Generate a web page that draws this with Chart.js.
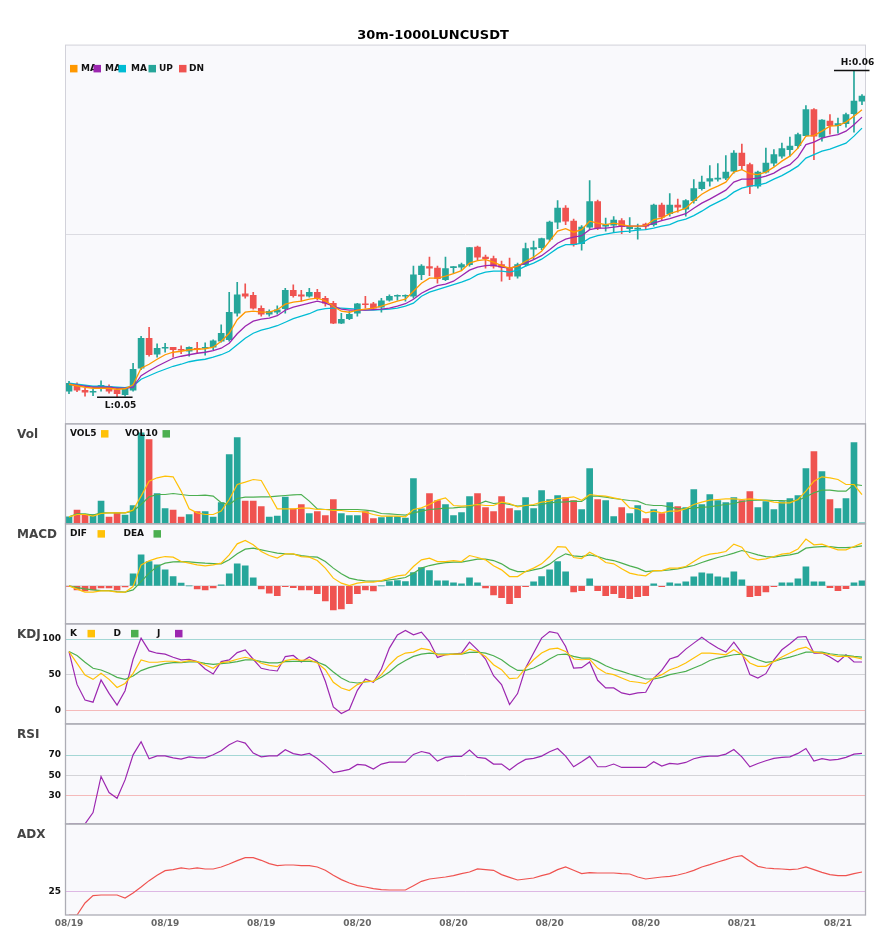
<!DOCTYPE html>
<html>
<head>
<meta charset="utf-8">
<title>30m-1000LUNCUSDT</title>
<script src="https://cdn.jsdelivr.net/npm/chart.js@4.4.1/dist/chart.umd.min.js"></script>
<style>
  html, body { margin: 0; padding: 0; background: #fff; }
</style>
</head>
<body>
<canvas id="chart" width="885" height="950"></canvas>
<script>
const UP = '#26a69a';
const DN = '#ef5350';

const tickLabels = ['08/19', '08/19', '08/19', '08/20', '08/20', '08/20', '08/20', '08/21', '08/21'];

const opens = [
  0.05317,0.05331,0.05319,0.05315,0.05322,0.05327,0.05320,0.05310,0.05319,0.05363,
  0.05423,0.05391,0.05403,0.05405,0.05401,0.05397,0.05403,0.05403,0.05405,0.05417,
  0.05420,0.05473,0.05512,0.05509,0.05483,0.05471,0.05475,0.05482,0.05519,0.05510,
  0.05507,0.05515,0.05503,0.05493,0.05453,0.05462,0.05473,0.05492,0.05492,0.05485,
  0.05499,0.05507,0.05507,0.05507,0.05550,0.05566,0.05563,0.05540,0.05564,0.05565,
  0.05570,0.05605,0.05585,0.05582,0.05570,0.05563,0.05547,0.05570,0.05601,0.05604,
  0.05621,0.05655,0.05683,0.05657,0.05612,0.05645,0.05696,0.05647,0.05649,0.05658,
  0.05642,0.05641,0.05651,0.05650,0.05689,0.05672,0.05689,0.05681,0.05698,0.05722,
  0.05737,0.05741,0.05743,0.05757,0.05793,0.05770,0.05727,0.05755,0.05773,0.05787,
  0.05800,0.05808,0.05828,0.05880,0.05825,0.05857,0.05848,0.05852,0.05872,0.05897
];
const highs = [
  0.05337,0.05334,0.05323,0.05321,0.05338,0.05330,0.05323,0.05325,0.05373,0.05427,
  0.05445,0.05412,0.05413,0.05405,0.05408,0.05406,0.05415,0.05414,0.05420,0.05450,
  0.05515,0.05535,0.05532,0.05515,0.05488,0.05480,0.05488,0.05523,0.05530,0.05519,
  0.05523,0.05521,0.05507,0.05497,0.05473,0.05477,0.05493,0.05507,0.05495,0.05503,
  0.05510,0.05510,0.05510,0.05567,0.05570,0.05585,0.05567,0.05585,0.05566,0.05573,
  0.05604,0.05607,0.05589,0.05587,0.05577,0.05583,0.05573,0.05613,0.05617,0.05623,
  0.05657,0.05698,0.05688,0.05661,0.05648,0.05738,0.05699,0.05663,0.05666,0.05662,
  0.05664,0.05651,0.05653,0.05691,0.05693,0.05712,0.05701,0.05700,0.05740,0.05747,
  0.05768,0.05772,0.05788,0.05798,0.05811,0.05773,0.05757,0.05803,0.05800,0.05813,
  0.05825,0.05833,0.05888,0.05882,0.05860,0.05870,0.05863,0.05873,0.05958,0.05910
];
const lows = [
  0.05312,0.05316,0.05307,0.05308,0.05317,0.05313,0.05305,0.05307,0.05317,0.05360,
  0.05387,0.05385,0.05395,0.05385,0.05392,0.05387,0.05393,0.05389,0.05400,0.05415,
  0.05417,0.05467,0.05503,0.05481,0.05467,0.05467,0.05471,0.05473,0.05505,0.05497,
  0.05505,0.05500,0.05487,0.05452,0.05452,0.05460,0.05467,0.05483,0.05480,0.05475,
  0.05497,0.05499,0.05497,0.05503,0.05540,0.05548,0.05533,0.05538,0.05553,0.05559,
  0.05567,0.05580,0.05563,0.05563,0.05537,0.05540,0.05543,0.05567,0.05581,0.05600,
  0.05617,0.05642,0.05650,0.05607,0.05599,0.05640,0.05640,0.05637,0.05634,0.05632,
  0.05634,0.05621,0.05640,0.05647,0.05660,0.05667,0.05675,0.05667,0.05693,0.05719,
  0.05727,0.05737,0.05740,0.05753,0.05760,0.05712,0.05723,0.05753,0.05767,0.05783,
  0.05787,0.05803,0.05827,0.05780,0.05817,0.05831,0.05833,0.05845,0.05835,0.05890
];
const closes = [
  0.05333,0.05319,0.05315,0.05317,0.05329,0.05317,0.05312,0.05323,0.05361,0.05423,
  0.05390,0.05403,0.05405,0.05400,0.05399,0.05405,0.05401,0.05405,0.05418,0.05433,
  0.05475,0.05510,0.05507,0.05483,0.05471,0.05477,0.05480,0.05519,0.05508,0.05507,
  0.05515,0.05503,0.05493,0.05453,0.05461,0.05471,0.05492,0.05490,0.05483,0.05498,
  0.05507,0.05509,0.05509,0.05550,0.05567,0.05563,0.05542,0.05562,0.05566,0.05570,
  0.05604,0.05585,0.05582,0.05567,0.05565,0.05547,0.05570,0.05602,0.05604,0.05622,
  0.05655,0.05683,0.05657,0.05610,0.05645,0.05696,0.05643,0.05650,0.05659,0.05646,
  0.05646,0.05643,0.05647,0.05689,0.05665,0.05689,0.05685,0.05698,0.05722,0.05735,
  0.05742,0.05743,0.05755,0.05793,0.05768,0.05727,0.05755,0.05773,0.05790,0.05802,
  0.05807,0.05830,0.05880,0.05827,0.05859,0.05848,0.05852,0.05870,0.05897,0.05907
];

const ma5 = [
  0.05331,0.05328,0.05325,0.05323,0.05323,0.05323,0.05321,0.05322,0.05330,0.05363,
  0.05371,0.05381,0.05390,0.05395,0.05397,0.05400,0.05401,0.05402,0.05405,0.05417,
  0.05433,0.05460,0.05475,0.05477,0.05475,0.05475,0.05480,0.05491,0.05495,0.05497,
  0.05501,0.05503,0.05498,0.05487,0.05477,0.05475,0.05479,0.05481,0.05483,0.05487,
  0.05492,0.05497,0.05501,0.05517,0.05533,0.05543,0.05543,0.05547,0.05552,0.05558,
  0.05573,0.05578,0.05580,0.05575,0.05568,0.05563,0.05567,0.05577,0.05585,0.05597,
  0.05617,0.05637,0.05642,0.05635,0.05640,0.05657,0.05653,0.05650,0.05653,0.05650,
  0.05647,0.05647,0.05648,0.05660,0.05663,0.05672,0.05677,0.05683,0.05698,0.05711,
  0.05720,0.05727,0.05735,0.05755,0.05760,0.05752,0.05750,0.05755,0.05765,0.05777,
  0.05787,0.05803,0.05827,0.05828,0.05837,0.05847,0.05848,0.05855,0.05867,0.05880
];
const ma10 = [
  0.05331,0.05329,0.05327,0.05325,0.05325,0.05325,0.05323,0.05323,0.05325,0.05348,
  0.05358,0.05367,0.05375,0.05383,0.05387,0.05390,0.05393,0.05395,0.05398,0.05403,
  0.05413,0.05432,0.05447,0.05457,0.05461,0.05463,0.05468,0.05479,0.05485,0.05489,
  0.05493,0.05497,0.05493,0.05487,0.05481,0.05479,0.05479,0.05479,0.05480,0.05481,
  0.05483,0.05487,0.05492,0.05501,0.05513,0.05521,0.05528,0.05531,0.05537,0.05548,
  0.05559,0.05565,0.05568,0.05569,0.05565,0.05563,0.05567,0.05573,0.05580,0.05588,
  0.05600,0.05613,0.05621,0.05625,0.05628,0.05640,0.05643,0.05643,0.05645,0.05647,
  0.05647,0.05647,0.05647,0.05653,0.05658,0.05662,0.05667,0.05672,0.05683,0.05693,
  0.05701,0.05710,0.05719,0.05735,0.05741,0.05741,0.05743,0.05747,0.05753,0.05763,
  0.05770,0.05785,0.05810,0.05815,0.05823,0.05827,0.05830,0.05837,0.05850,0.05865
];
const ma20 = [
  0.05333,0.05331,0.05329,0.05327,0.05327,0.05326,0.05325,0.05324,0.05327,0.05341,
  0.05348,0.05355,0.05361,0.05367,0.05371,0.05376,0.05379,0.05381,0.05385,0.05390,
  0.05397,0.05410,0.05423,0.05433,0.05439,0.05443,0.05448,0.05455,0.05462,0.05467,
  0.05472,0.05479,0.05482,0.05483,0.05483,0.05482,0.05481,0.05479,0.05479,0.05480,
  0.05481,0.05483,0.05487,0.05493,0.05507,0.05515,0.05520,0.05525,0.05530,0.05535,
  0.05541,0.05550,0.05555,0.05557,0.05557,0.05555,0.05559,0.05567,0.05573,0.05581,
  0.05592,0.05603,0.05610,0.05610,0.05613,0.05623,0.05628,0.05631,0.05634,0.05636,
  0.05637,0.05639,0.05640,0.05643,0.05647,0.05650,0.05657,0.05661,0.05668,0.05677,
  0.05687,0.05695,0.05703,0.05715,0.05723,0.05727,0.05729,0.05733,0.05741,0.05748,
  0.05757,0.05767,0.05783,0.05790,0.05797,0.05801,0.05807,0.05813,0.05827,0.05843
];

const volumes = [
  7,13.7,9.3,9.3,22.7,6.7,11,8.7,18.3,91,
  84.3,30.3,15.3,13.7,6.7,9.3,12.3,12.3,6.7,21.3,
  69.3,86.3,22.7,22.7,17.3,6.7,7.7,26.7,15,19.3,
  10.3,12.3,8.3,24.3,10.3,8.3,8.3,12.3,5.3,6.3,
  7.3,7.3,5.7,45.3,15,30.3,23.3,19.3,8.3,11.3,
  27.3,30.3,16.3,12.3,27.3,15.3,13.3,26.3,15.3,33.3,
  24.3,28.3,26.3,23.3,14.3,55.3,24.3,23.3,7.3,16.3,
  10.3,18.3,5.3,14.3,10.3,21.3,17.3,16.3,34.3,19.3,
  29.3,23.3,21.3,26.3,23.3,32.3,16.3,22.3,14.3,22.3,
  25.3,28.3,55.3,72.3,52.3,24.3,15.3,25.3,81.3,1
];
const vol5 = [
  7,9.3,9.3,7.7,10.3,11,11,11,13.7,27.7,
  42.7,46,47.7,47,32.7,15,11,9.3,9.3,12.7,
  24.3,39.3,41.7,44.3,43.3,29.3,15,15,15,15.7,
  15.7,14.3,14.3,13.3,13.3,12.3,12.3,11.7,9.3,7.7,
  7.7,7.7,7,14.3,16,19.3,23.7,26,18.3,17.7,
  18.3,19.3,18.3,18.3,21.7,20.3,17,18.3,19.3,21.7,
  22.7,25.3,26,27,23.5,29.3,28.3,27.7,26,24.3,
  16,15,11,12.7,11,12.7,12.7,15,19.3,21.7,
  23.7,24.3,25,25,24.3,25,24.3,23.3,21.7,21,
  21,24.3,32.7,42.7,47,46,44.3,39.3,39.3,29.3
];
const vol10 = [
  7,10,10,8.7,11,11,11,11,12.7,19.3,
  27,29.3,29.3,30.3,29.3,28.3,28.3,28.7,27.7,21,
  19.3,25.3,26.7,26.7,27,27,27.7,28.3,29,29.3,
  22.7,15,14.3,14.3,14.3,14.3,14.3,13.7,12.7,10.3,
  10,9.3,8.7,11,12.7,14.3,15,15.7,16,16.7,
  17,19.3,22.7,20.3,21,19.3,17.7,18.3,18.3,19.3,
  21,21.7,22,22.7,22.3,27.7,27.7,26.7,25.3,24.3,
  23.3,22.7,19.3,18.3,18.3,17,15,15,15.7,16.7,
  17,18.3,19.3,20.3,22.3,23.3,23.7,23.7,23.3,23.3,
  22.7,23.3,27,31,33.7,33.7,32.7,32.7,39.3,38.3
];

const macdHist = [
  -0.5,-4,-5,-4,-2,-2,-4,-1,12,31,
  24.3,21,16,9.3,2.7,0,-3,-4,-2,1,
  12,22,20,8,-3,-7.3,-9.7,-0.7,-1.7,-4,
  -4,-7.7,-15,-24,-23,-17.7,-7.7,-4,-5,0,
  4.3,5.3,4.3,13.3,18.3,15.3,5,5,3,2,
  8,3,-2,-9,-11.7,-17.7,-11.7,-0.7,4,9.3,
  16,24.3,14,-6,-4.7,7,-4.7,-9.7,-7.7,-11.7,
  -12.7,-10.7,-9.7,2,-0.7,3,2,4,9,13,
  12,9,8,14,6,-10.7,-9.7,-6,-0.7,3,
  3,7,19,4,4,-1.7,-4.7,-2.7,3,5
];
const dif = [
  0,-3.3,-6.3,-6.3,-5,-5,-6.3,-6.3,-0.7,21,
  25,27.7,29.3,28.7,24.3,22.7,21,20,21,22.7,
  31,42,45.3,41,34.3,30.3,27.7,32,32,29.3,
  28.7,25.3,17.7,7.7,2.7,0.3,2.7,3.7,3.7,5.3,
  7.7,10,11,19.3,26,27.7,24.3,24.3,25.3,24.3,
  30.3,28.3,26,20,16,9.3,9.3,14.3,17.7,22,
  29.3,39.3,38.7,28.3,27.3,33.5,29.3,23.3,22,17,
  12.7,11,10,15.3,15.3,17.7,17.7,19.3,24.3,29.3,
  31.7,32.7,34.3,41.7,38.7,28.3,26,27,29.3,31.7,
  32.7,36.7,46.7,41,41.7,38.7,36,36,39.3,42.7
];
const dea = [
  0,-1.7,-3,-4,-4.7,-4.7,-5.7,-6.3,-4,4.3,
  12.7,19.3,22.7,24,24.3,24,23.3,22.7,22.3,22,
  26,32,36.7,37.7,36,34.3,32.7,32,31.7,30.3,
  29.3,28.7,24.3,17.7,12,7.7,6,5,4.7,4.7,
  6,7,8.3,12.7,17.7,20.3,22,23.3,23.7,23.7,
  25.3,26.7,26.7,25.3,22,17,14.3,14.3,16,17.7,
  21.7,27.7,32,30,29.3,31,29.3,26.7,25.3,22.7,
  20,17.7,14.3,15,15.3,16,17,18.7,20.3,23.3,
  26,28.3,30.3,32.7,35.3,33.3,31,29.3,28.7,30,
  31,32.7,37.7,38.7,39.3,39.3,38.3,38.3,38.7,40
];

const kLine = [
  82.5,66,49.5,43.4,51.9,43.4,32,37.7,51.9,70.8,
  67.5,67.5,68.9,68.9,67.5,69.8,68.4,63.7,59,67,
  68.4,71.7,74.5,71.7,66,63.2,61.3,69.8,71.8,70,
  71,66.4,57,39.3,31.3,27.6,36,40.7,40.7,50,
  64,74.8,80.4,81.8,86.9,85,78,78,79,79,
  86,82.7,75.7,64,57,44.4,45.3,59.3,71,80.4,
  86,87.4,82.7,72,71,71.7,59.3,52.3,50,45.3,
  40.7,39.3,37.4,45.3,50,57,60.7,66.4,73.4,80.4,
  80.4,79.4,78,85,78,66.4,61.7,61.7,68.7,74.8,
  80.4,86,88.8,81.8,80.4,78,75.7,75.7,74.8,72
];
const dLine = [
  82.5,76.9,67.5,59,56.6,51.9,46.2,43.4,48.1,55.7,
  59.9,62.7,65.6,67,67,67.9,67.9,66,64.6,65.6,
  66.5,68.4,70.8,70.8,68.4,66.5,66.5,68.4,68.8,68.7,
  68.7,67.8,63.1,53.7,45.3,39.7,38.3,39.7,40.7,46.3,
  53.7,63.1,70,75.7,79,80.4,79.4,79,79,79,
  81.3,81.8,80.4,76.6,71,62.6,56,56,59.3,65,
  72,78,79,75.7,73.4,73.4,68.7,62.6,57.9,54.7,
  50.9,47.7,43.9,43.9,46.3,50,52.3,54.7,59.3,64,
  70,73.4,75.7,78,79,75.7,71,67.3,68.7,72,
  74.8,78,81.8,81.8,81.8,79.4,78,77.1,75.7,74.8
];
const jLine = [
  82.5,36.3,14.2,11.3,42.5,23.6,7.1,27.4,71.7,101.4,
  83.5,80.2,78.8,74.5,70.8,71.7,68.4,58,50.9,68.4,
  70.8,81.1,84.9,71.7,59,56.6,55.2,75.5,77,67.8,
  74.8,68.7,40.7,4.7,-4.7,0.9,28,43.9,39.3,57.9,
  87.4,106,112.1,106,109.8,96.7,74.3,78,79,80.4,
  95.8,85,72,48.6,36,7.9,23.4,59.3,80.4,101.4,
  110.7,108.4,89.7,59.3,59.8,67.8,42.1,31.3,31.3,24.3,
  22,24.3,25.2,45.3,56,72,75.7,86,94.4,102.8,
  94.4,87.4,81.8,95.8,80.4,50,45.3,51.4,71,85,
  93.5,102.8,103.7,80.4,80.4,74.8,67.8,78,67.8,67.8
];

const rsi = [
  1.5,1.5,1.5,12.7,48.7,32.7,27,45.3,70.3,83.3,
  66.3,69.3,69.3,67.3,66,68.3,67.3,67.3,70.3,74.3,
  80.3,84.3,82,72,68.3,69.3,69.3,75.3,71.5,70,
  71.7,66.7,60,52.5,54.1,55.8,60.7,60,56.1,61.1,
  63,63,63,70.7,73.6,71.7,64,67.7,68.7,68.7,
  75,67.7,66.7,61.1,61.1,55.1,61.1,65.7,66.7,69,
  73.3,76.6,69,58.4,63.4,68.7,58.4,58.4,61.1,57.7,
  57.7,57.7,57.7,63.4,59.1,61.7,61.1,62.7,66.4,68.3,
  69,69,71,75.6,68.3,58.4,61.7,64.4,66.7,67.7,
  68.3,71.7,76.6,64,66.4,65,65.7,67.7,71,71.7
];
const adx = [
  18.1,18.1,21.7,23.9,24.1,24.1,24.1,23.2,24.7,26.5,
  28.4,30,31.4,31.7,32.2,31.9,32.2,31.9,31.9,32.5,
  33.4,34.4,35.3,35.3,34.5,33.5,32.9,33.1,33.1,32.9,
  32.9,32.5,31.5,30,28.7,27.7,26.9,26.5,26,25.7,
  25.6,25.6,25.6,26.9,28.2,28.9,29.2,29.5,29.9,30.5,
  31,31.9,31.7,31.5,30.2,29.4,28.6,28.9,29.2,29.9,
  30.5,31.7,32.5,31.5,30.5,30.8,30.7,30.7,30.7,30.5,
  30.4,29.5,28.9,29.2,29.5,29.7,30.1,30.7,31.5,32.5,
  33.2,34,34.7,35.5,35.9,34.2,32.7,32.2,32,31.9,
  31.7,31.9,32.5,31.7,30.9,30.2,29.9,29.9,30.5,31
];

const categories = opens.map((_, i) => i);
const candleColors = opens.map((o, i) => closes[i] >= o ? UP : DN);
const histColors = macdHist.map(v => v >= 0 ? UP : DN);

Chart.defaults.font.family = '"DejaVu Sans", sans-serif';

const FONT_BOLD_9 = 'bold 9px "DejaVu Sans", sans-serif';

function line(label, data, axis, color, width) {
    return {
        type: 'line', label, data, yAxisID: axis,
        borderColor: color, borderWidth: width || 1.2,
        pointRadius: 0, tension: 0, fill: false, order: 1
    };
}

function fixWidth(scale) { scale.width = 65; }

function refTicks(values) {
    return scale => { scale.ticks = values.map(v => ({ value: v })); };
}

function refColor(map) {
    return ctx => map[ctx.tick.value] || 'rgba(0,0,0,0)';
}

const tickFont = { size: 9, weight: 'bold' };

function paneScale(weight, stackWeight, min, max, extra) {
    return Object.assign({
        type: 'linear', stack: 'panes', stackWeight, weight, min, max,
        afterFit: fixWidth,
        border: { display: false },
        grid: { drawTicks: false, display: false },
        ticks: { display: false }
    }, extra);
}

// legends, panel labels, borders, high/low markers
const decorations = {
    id: 'decorations',
    beforeDraw(chart) {
        const { ctx, chartArea: a } = chart;
        ctx.save();
        ctx.fillStyle = '#ffffff';
        ctx.fillRect(0, 0, chart.width, chart.height);
        ctx.fillStyle = '#f9f9fc';
        ctx.fillRect(a.left, a.top, a.right - a.left, a.bottom - a.top);
        ctx.restore();
    },
    afterDraw(chart) {
        const { ctx, chartArea: a, scales } = chart;
        ctx.save();

        // pane frames
        ctx.lineWidth = 1;
        ctx.strokeStyle = '#d2d2da';
        const m = scales.y;
        ctx.strokeRect(a.left + 0.5, m.top + 0.5, a.right - a.left - 1, m.bottom - m.top);
        ctx.strokeStyle = '#adadb5';
        ctx.lineWidth = 1.3;
        ['yVol', 'yMacd', 'yKdj', 'yRsi', 'yAdx'].forEach(id => {
            const s = scales[id];
            ctx.strokeRect(a.left + 0.5, s.top, a.right - a.left - 1, s.bottom - s.top);
        });

        // pane names
        ctx.fillStyle = '#444';
        ctx.font = 'bold 12px "DejaVu Sans", sans-serif';
        ctx.textBaseline = 'middle';
        ctx.textAlign = 'left';
        [['yVol', 'Vol'], ['yMacd', 'MACD'], ['yKdj', 'KDJ'], ['yRsi', 'RSI'], ['yAdx', 'ADX']].forEach(([id, name]) => {
            ctx.fillText(name, 17, scales[id].top + 11);
        });

        // legends
        ctx.font = FONT_BOLD_9;
        const legend = (items, top) => {
            items.forEach(it => {
                if (it.box) {
                    ctx.fillStyle = it.box;
                    ctx.fillRect(a.left + it.x, top - 3.7, 7.5, 7.5);
                } else {
                    ctx.fillStyle = '#111';
                    ctx.fillText(it.text, a.left + it.x, top);
                }
            });
        };
        legend([
            { box: '#ff9800', x: 5 }, { text: 'MA', x: 16 },
            { box: '#9c27b0', x: 28.5 }, { text: 'MA', x: 40 },
            { box: '#00bcd4', x: 53.5 }, { text: 'MA', x: 66 },
            { box: UP, x: 83.5 }, { text: 'UP', x: 94 },
            { box: DN, x: 114 }, { text: 'DN', x: 124 }
        ], m.top + 24);
        legend([
            { text: 'VOL5', x: 5 }, { box: '#ffc107', x: 36 },
            { text: 'VOL10', x: 60 }, { box: '#4caf50', x: 97.5 }
        ], scales.yVol.top + 10);
        legend([
            { text: 'DIF', x: 5 }, { box: '#ffc107', x: 32.5 },
            { text: 'DEA', x: 58.5 }, { box: '#4caf50', x: 88.5 }
        ], scales.yMacd.top + 10);
        legend([
            { text: 'K', x: 5 }, { box: '#ffc107', x: 22.5 },
            { text: 'D', x: 48.5 }, { box: '#4caf50', x: 66 },
            { text: 'J', x: 92 }, { box: '#9c27b0', x: 110 }
        ], scales.yKdj.top + 9.7);

        // highest high / lowest low markers
        const iH = highs.indexOf(Math.max(...highs));
        const iL = lows.indexOf(Math.min(...lows));
        const x = scales.x;
        ctx.strokeStyle = '#111';
        ctx.lineWidth = 1.5;
        ctx.fillStyle = '#111';
        ctx.textAlign = 'center';
        const mark = (i, value, above) => {
            const px = x.getPixelForValue(i);
            const py = m.getPixelForValue(value);
            ctx.beginPath();
            ctx.moveTo(px - 20, py);
            ctx.lineTo(px + 15.5, py);
            ctx.stroke();
            ctx.textBaseline = above ? 'bottom' : 'top';
            ctx.fillText((above ? 'H:' : 'L:') + value.toFixed(2), px + 3.5, above ? py - 3 : py + 4);
        };
        mark(iH, highs[iH], true);
        mark(iL, lows[iL], false);
        ctx.restore();
    }
};

new Chart(document.getElementById('chart'), {
    type: 'bar',
    data: {
        labels: categories,
        datasets: [
            { type: 'bar', label: 'wick', data: lows.map((l, i) => [l, highs[i]]), yAxisID: 'y',
              backgroundColor: candleColors, barThickness: 1, order: 3 },
            { type: 'bar', label: 'body', data: opens.map((o, i) => [o, closes[i]]), yAxisID: 'y',
              backgroundColor: candleColors, barThickness: 6, minBarLength: 1, order: 2 },
            line('MA5', ma5, 'y', '#ff9800', 1.3),
            line('MA10', ma10, 'y', '#9c27b0', 1.3),
            line('MA20', ma20, 'y', '#00bcd4', 1.3),

            { type: 'bar', label: 'Vol', data: volumes, yAxisID: 'yVol',
              backgroundColor: candleColors, barThickness: 6, order: 2 },
            line('VOL5', vol5, 'yVol', '#ffc107'),
            line('VOL10', vol10, 'yVol', '#4caf50'),

            { type: 'bar', label: 'MACD', data: macdHist, yAxisID: 'yMacd',
              backgroundColor: histColors, barThickness: 6, order: 2 },
            line('DIF', dif, 'yMacd', '#ffc107'),
            line('DEA', dea, 'yMacd', '#4caf50'),

            line('K', kLine, 'yKdj', '#ffc107'),
            line('D', dLine, 'yKdj', '#4caf50'),
            line('J', jLine, 'yKdj', '#9c27b0'),

            line('RSI', rsi, 'yRsi', '#9c27b0'),
            line('ADX', adx, 'yAdx', '#ef5350')
        ]
    },
    options: {
        responsive: false,
        animation: false,
        events: [],
        layout: { padding: { left: 0, right: 19, top: 0, bottom: 0 } },
        datasets: { bar: { grouped: false } },
        plugins: {
            legend: { display: false },
            tooltip: { enabled: false },
            title: {
                display: true,
                text: '30m-1000LUNCUSDT',
                color: '#000',
                font: { size: 13, weight: 'bold' },
                padding: { top: 27.5, bottom: 1.5 }
            }
        },
        scales: {
            x: {
                type: 'category',
                offset: true,
                grid: { display: false, drawTicks: false, tickLength: 0 },
                border: { display: false },
                afterFit: s => { s.height = 35; },
                ticks: {
                    autoSkip: false, maxRotation: 0, minRotation: 0, padding: 3,
                    color: '#666', font: tickFont,
                    callback: (v, i) => (i % 12 === 0 ? tickLabels[i / 12] : '')
                }
            },
            yAdx: paneScale(1, 91, 18.1, 45.4, {
                afterBuildTicks: refTicks([25]),
                grid: { drawTicks: false, color: refColor({ 25: 'rgba(186,104,200,0.45)' }) },
                ticks: { color: '#111', font: tickFont, padding: 4 }
            }),
            yRsi: paneScale(2, 100, 1.4, 101.1, {
                afterBuildTicks: refTicks([30, 50, 70]),
                grid: { drawTicks: false, color: refColor({ 30: 'rgba(239,83,80,0.38)', 50: '#d4d4d8', 70: 'rgba(38,166,154,0.4)' }) },
                ticks: { color: '#111', font: tickFont, padding: 4 }
            }),
            yKdj: paneScale(3, 100, -19.3, 121.5, {
                afterBuildTicks: refTicks([0, 50, 100]),
                grid: { drawTicks: false, color: refColor({ 0: 'rgba(239,83,80,0.38)', 50: '#d4d4d8', 100: 'rgba(38,166,154,0.4)' }) },
                ticks: { color: '#111', font: tickFont, padding: 4 }
            }),
            yMacd: paneScale(4, 100, -38, 62, {
                afterBuildTicks: refTicks([0]),
                grid: { drawTicks: false, color: refColor({ 0: '#dcdce0' }) }
            }),
            yVol: paneScale(5, 100, 0, 100),
            y: paneScale(6, 379, 0.05252, 0.0601, {
                afterBuildTicks: s => { s.ticks = [{ value: (s.min + s.max) / 2 }]; },
                grid: { drawTicks: false, color: '#dcdce2' }
            })
        }
    },
    plugins: [decorations]
});
</script>
</body>
</html>
